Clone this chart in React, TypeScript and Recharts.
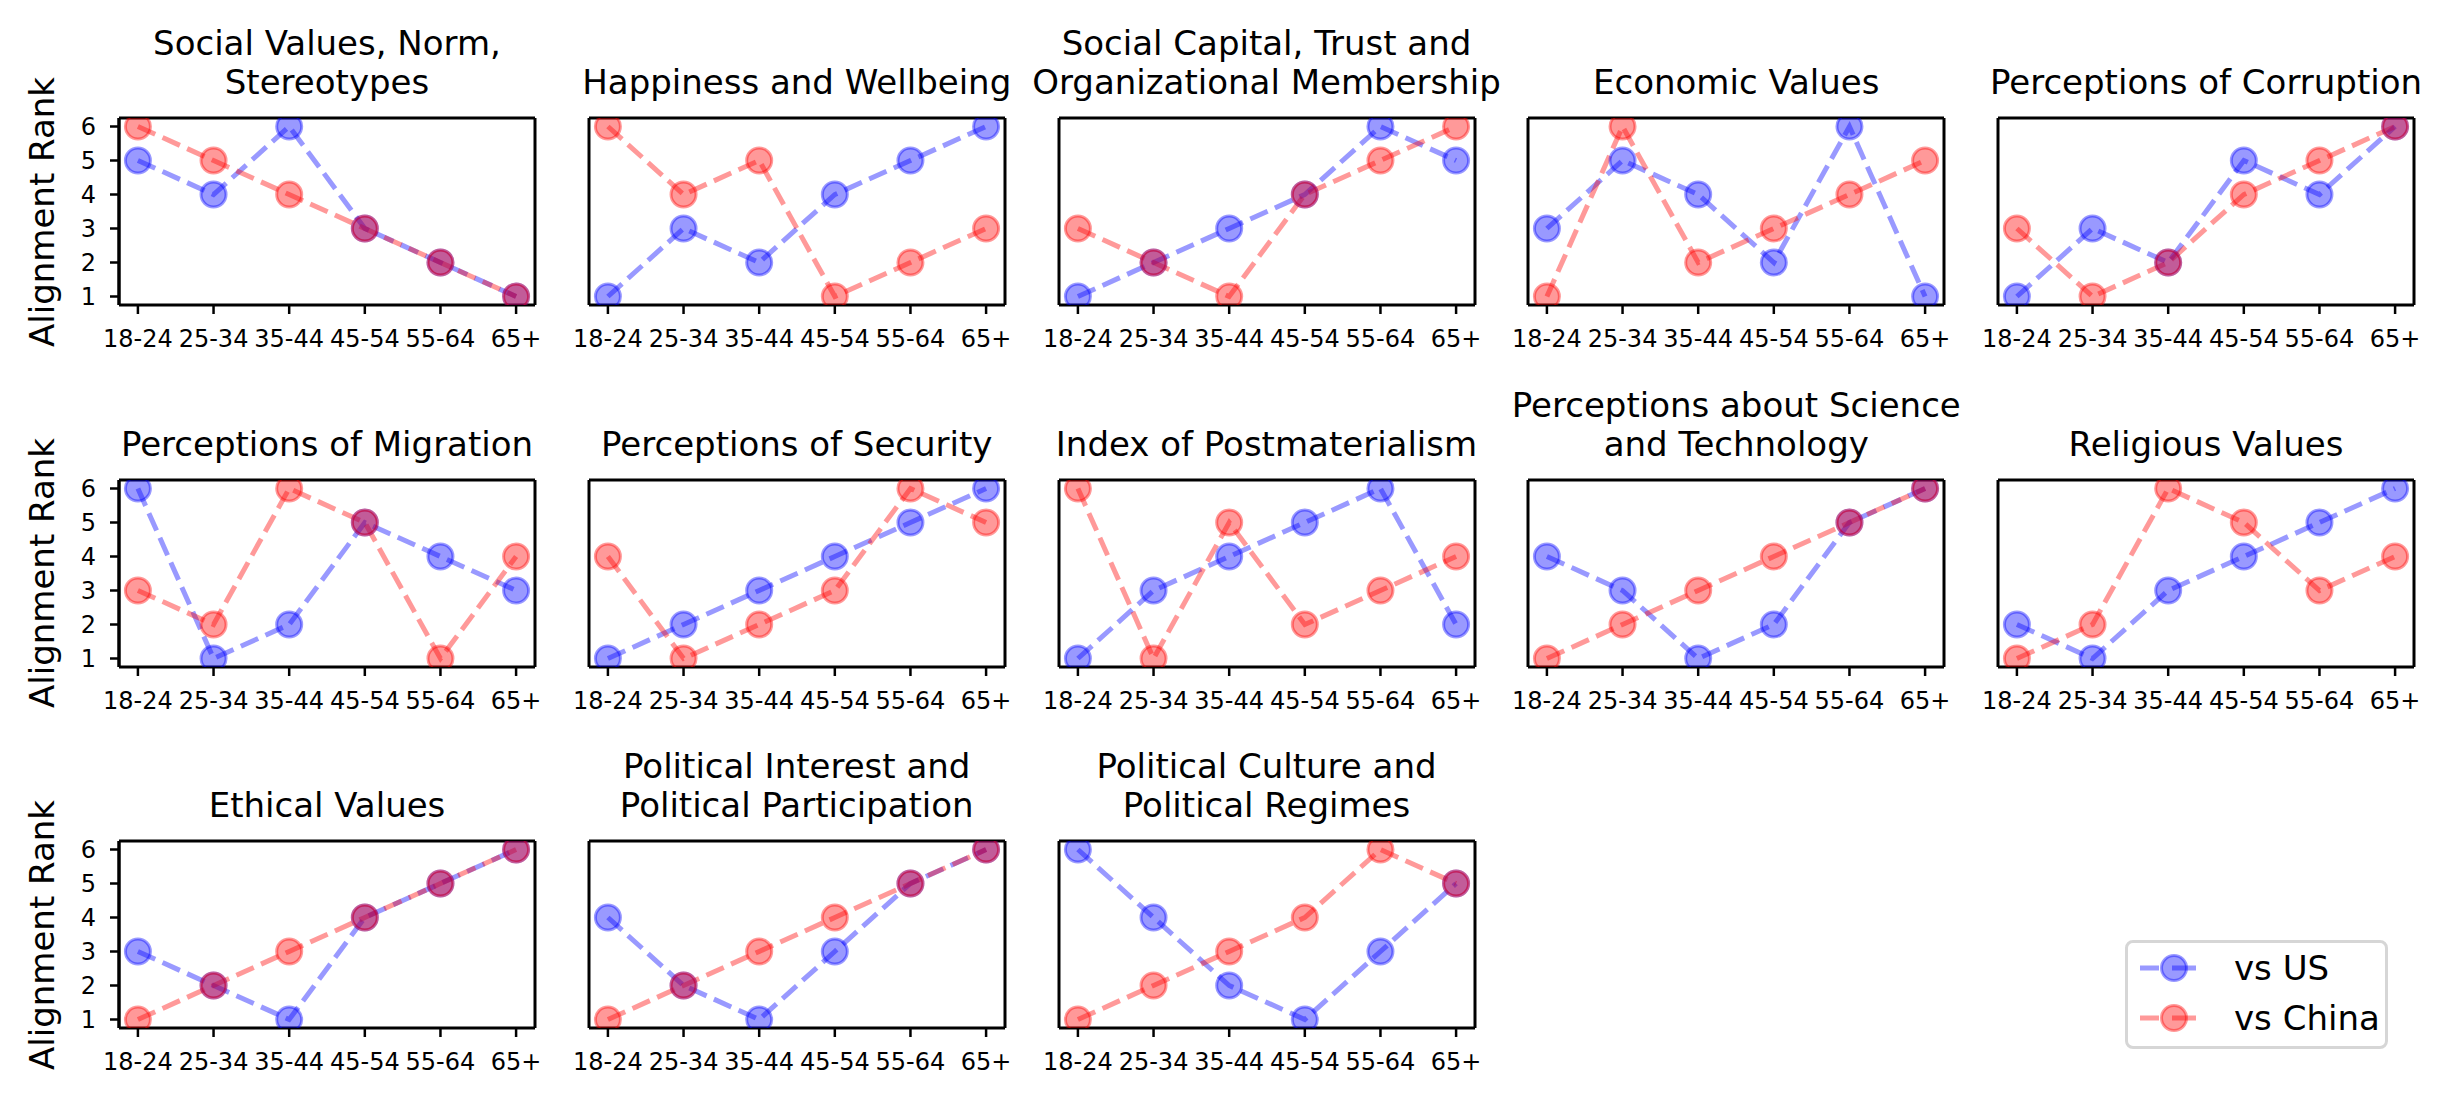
import { Line, LineChart, ReferenceLine, XAxis, YAxis } from "recharts"

const ageGroups = ["18-24", "25-34", "35-44", "45-54", "55-64", "65+"]
const rankTicks = [1, 2, 3, 4, 5, 6]

const panelTitles = [
  ["Social Values, Norm,", "Stereotypes"],
  ["Happiness and Wellbeing"],
  ["Social Capital, Trust and", "Organizational Membership"],
  ["Economic Values"],
  ["Perceptions of Corruption"],
  ["Perceptions of Migration"],
  ["Perceptions of Security"],
  ["Index of Postmaterialism"],
  ["Perceptions about Science", "and Technology"],
  ["Religious Values"],
  ["Ethical Values"],
  ["Political Interest and", "Political Participation"],
  ["Political Culture and", "Political Regimes"],
]

// alignment rank per age group, one row per panel
const usRanks = [
  [5, 4, 6, 3, 2, 1],
  [1, 3, 2, 4, 5, 6],
  [1, 2, 3, 4, 6, 5],
  [3, 5, 4, 2, 6, 1],
  [1, 3, 2, 5, 4, 6],
  [6, 1, 2, 5, 4, 3],
  [1, 2, 3, 4, 5, 6],
  [1, 3, 4, 5, 6, 2],
  [4, 3, 1, 2, 5, 6],
  [2, 1, 3, 4, 5, 6],
  [3, 2, 1, 4, 5, 6],
  [4, 2, 1, 3, 5, 6],
  [6, 4, 2, 1, 3, 5],
]

const chinaRanks = [
  [6, 5, 4, 3, 2, 1],
  [6, 4, 5, 1, 2, 3],
  [3, 2, 1, 4, 5, 6],
  [1, 6, 2, 3, 4, 5],
  [3, 1, 2, 4, 5, 6],
  [3, 2, 6, 5, 1, 4],
  [4, 1, 2, 3, 6, 5],
  [6, 1, 5, 2, 3, 4],
  [1, 2, 3, 4, 5, 6],
  [1, 2, 6, 5, 3, 4],
  [1, 2, 3, 4, 5, 6],
  [1, 2, 3, 4, 5, 6],
  [1, 2, 3, 4, 6, 5],
]

const FONT = "'DejaVu Sans', sans-serif"
const X_DOMAIN = [-0.25, 5.25]
const Y_DOMAIN = [0.75, 6.25]
const PLOT_W = 416
const PLOT_H = 187
const COL_LEFT = [119, 588.75, 1058.5, 1528.25, 1998]
const ROW_TOP = [118, 479.5, 841]
const PAD = 10
const PAD_X = 40
const X_AXIS_H = 60
const Y_AXIS_W = 80

const spine = { stroke: "#000", strokeWidth: 3 }
const tickMark = { stroke: "#000", strokeWidth: 2.5 }
const tickText = { fill: "#000", fontSize: 24 }

function dotStyle(color: string) {
  return {
    r: 12.5,
    fill: color,
    fillOpacity: 0.4,
    stroke: color,
    strokeOpacity: 0.4,
    strokeWidth: 3,
    strokeDasharray: "none",
  }
}

function Panel({ index }: { index: number }) {
  const col = index % 5
  const row = Math.floor(index / 5)
  const yw = col === 0 ? Y_AXIS_W : 0
  const padL = col === 0 ? PAD : PAD_X
  const data = ageGroups.map((_, i) => ({
    x: i,
    us: usRanks[index][i],
    china: chinaRanks[index][i],
  }))
  const lines = panelTitles[index]
  const left = COL_LEFT[col]
  const top = ROW_TOP[row]

  return (
    <>
      <div
        style={{
          position: "absolute",
          left: left + PLOT_W / 2 - 300,
          top: top - 16 - lines.length * 39,
          width: 600,
          textAlign: "center",
          fontSize: 34,
          lineHeight: "39px",
          whiteSpace: "pre",
        }}
      >
        {lines.join("\n")}
      </div>
      {col === 0 && (
        <div
          style={{
            position: "absolute",
            left: 42 - 200,
            top: top + PLOT_H / 2 - 20,
            width: 400,
            height: 40,
            lineHeight: "40px",
            textAlign: "center",
            fontSize: 34,
            transform: "rotate(-90deg)",
          }}
        >
          Alignment Rank
        </div>
      )}
      <div style={{ position: "absolute", left: left - padL - yw, top: top - PAD }}>
        <LineChart
          width={padL + yw + PLOT_W + PAD_X}
          height={PAD + PLOT_H + X_AXIS_H}
          data={data}
          margin={{ top: PAD, right: PAD_X, bottom: 0, left: padL }}
          style={{ fontFamily: FONT }}
        >
          <Line
            type="linear"
            dataKey="us"
            stroke="blue"
            strokeOpacity={0.4}
            strokeWidth={5}
            strokeDasharray="19 8"
            dot={dotStyle("blue")}
            activeDot={false}
            isAnimationActive={false}
          />
          <Line
            type="linear"
            dataKey="china"
            stroke="red"
            strokeOpacity={0.4}
            strokeWidth={5}
            strokeDasharray="19 8"
            dot={dotStyle("red")}
            activeDot={false}
            isAnimationActive={false}
          />
          <XAxis
            dataKey="x"
            type="number"
            domain={X_DOMAIN}
            ticks={[0, 1, 2, 3, 4, 5]}
            interval={0}
            tickFormatter={(v: number) => ageGroups[v]}
            height={X_AXIS_H}
            axisLine={spine}
            tickLine={tickMark}
            tickSize={9}
            tickMargin={16}
            tick={tickText}
            allowDataOverflow
          />
          <YAxis
            type="number"
            domain={Y_DOMAIN}
            ticks={rankTicks}
            interval={0}
            width={yw}
            hide={col !== 0}
            axisLine={spine}
            tickLine={tickMark}
            tick={tickText}
            tickSize={9}
            tickMargin={14}
            allowDataOverflow
          />
          <ReferenceLine x={X_DOMAIN[0]} stroke="#000" strokeWidth={3} />
          <ReferenceLine y={Y_DOMAIN[1]} stroke="#000" strokeWidth={3} />
          <ReferenceLine x={X_DOMAIN[1]} stroke="#000" strokeWidth={3} />
        </LineChart>
      </div>
    </>
  )
}

function LegendEntry({ color, label, y }: { color: string; label: string; y: number }) {
  return (
    <div style={{ position: "absolute", left: 0, top: y - 25, height: 50, width: 263 }}>
      <svg width={80} height={50} style={{ position: "absolute", left: 0, top: 0 }}>
        <line
          x1={12}
          x2={68}
          y1={25}
          y2={25}
          stroke={color}
          strokeOpacity={0.4}
          strokeWidth={5}
          strokeDasharray="19 13 24"
        />
        <circle
          cx={46}
          cy={25}
          r={12.5}
          fill={color}
          fillOpacity={0.4}
          stroke={color}
          strokeOpacity={0.4}
          strokeWidth={3}
        />
      </svg>
      <div
        style={{
          position: "absolute",
          left: 106,
          top: 0,
          height: 50,
          lineHeight: "50px",
          fontSize: 34,
          whiteSpace: "nowrap",
        }}
      >
        {label}
      </div>
    </div>
  )
}

export default function App() {
  return (
    <div
      style={{
        position: "absolute",
        left: 0,
        top: 0,
        width: 2450,
        height: 1104,
        background: "#fff",
        fontFamily: FONT,
        color: "#000",
        overflow: "hidden",
      }}
    >
      {panelTitles.map((_, i) => (
        <Panel key={i} index={i} />
      ))}
      <div
        style={{
          position: "absolute",
          left: 2125,
          top: 940,
          width: 263,
          height: 109,
          boxSizing: "border-box",
          border: "3px solid #d6d6d6",
          borderRadius: 8,
          background: "#fff",
        }}
      >
        <LegendEntry color="blue" label="vs US" y={25} />
        <LegendEntry color="red" label="vs China" y={75} />
      </div>
    </div>
  )
}
